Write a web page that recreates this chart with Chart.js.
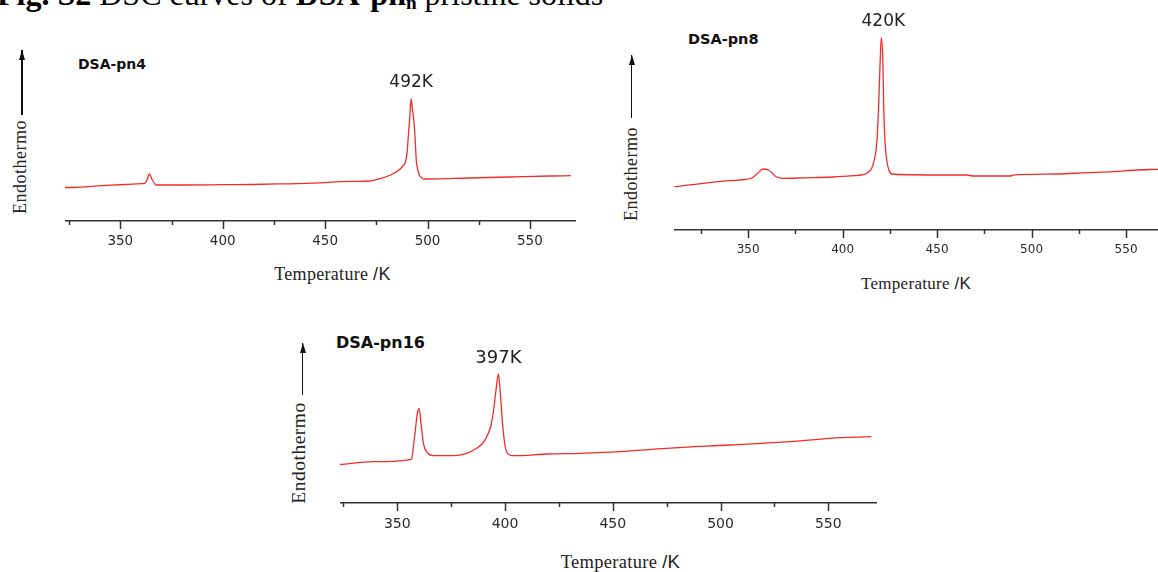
<!DOCTYPE html>
<html lang="en">
  <head>
    <meta charset="UTF-8" />
    <title>DSC curves of DSA-pn pristine solids</title>
    <script src="https://cdn.jsdelivr.net/npm/chart.js"></script>
    <style>
      body {
        margin: 0;
        width: 1158px;
        height: 572px;
        overflow: hidden;
        position: relative;
        background: #fff;
        font-family: "DejaVu Sans", sans-serif;
      }
      canvas,
      .abs {
        position: absolute;
      }
      .fig-title {
        left: -3px;
        top: -22px;
        font-family: "Liberation Serif", "Times New Roman", serif;
        font-size: 32px;
        line-height: 32px;
        white-space: nowrap;
        color: #000;
      }
      .fig-title sub {
        font-size: 60%;
        vertical-align: -0.2em;
        line-height: 0;
      }
      .panel-name {
        font-weight: bold;
        color: #111;
        white-space: nowrap;
        line-height: 1;
      }
      .ylab {
        width: 120px;
        height: 22px;
        line-height: 22px;
        text-align: center;
        transform: rotate(-90deg);
        font-family: "Liberation Serif", serif;
        color: #222;
        letter-spacing: 0.5px;
        white-space: nowrap;
      }
      .xlab {
        width: 200px;
        height: 22px;
        line-height: 22px;
        text-align: center;
        font-family: "Liberation Serif", serif;
        color: #222;
        letter-spacing: 0.3px;
        white-space: nowrap;
      }
      .xlab span {
        font-family: "Liberation Sans", sans-serif;
      }
      .arrow {
        width: 1.4px;
        background: #111;
      }
      .arrow::before {
        content: "";
        position: absolute;
        left: -2.3px;
        top: 0;
        border-left: 3px solid transparent;
        border-right: 3px solid transparent;
        border-bottom: 10px solid #111;
      }
    </style>
  </head>
  <body>
    <div class="abs fig-title">
      <b>Fig. S2</b> DSC curves of <b>DSA-pn<sub>n</sub></b> pristine solids
    </div>

    <!-- DSA-pn4 -->
    <div class="abs arrow" style="left: 21.3px; top: 50px; height: 65px"></div>
    <div class="abs ylab" style="left: -40.5px; top: 155.5px; font-size: 18px">Endothermo</div>
    <div class="abs panel-name" style="left: 78px; top: 57px; font-size: 14px">DSA-pn4</div>
    <canvas id="chart4" width="511" height="221" style="left: 65px; top: 40px"></canvas>
    <div class="abs xlab" style="left: 232.5px; top: 263px; font-size: 18px">Temperature <span>/K</span></div>

    <!-- DSA-pn8 -->
    <div class="abs arrow" style="left: 631px; top: 55px; height: 63px"></div>
    <div class="abs ylab" style="left: 571px; top: 162.5px; font-size: 18px">Endothermo</div>
    <div class="abs panel-name" style="left: 688px; top: 32px; font-size: 14.5px">DSA-pn8</div>
    <canvas id="chart8" width="484" height="270" style="left: 674px; top: 0px"></canvas>
    <div class="abs xlab" style="left: 816px; top: 273px; font-size: 17px">Temperature <span>/K</span></div>

    <!-- DSA-pn16 -->
    <div class="abs arrow" style="left: 302px; top: 343px; height: 52px"></div>
    <div class="abs ylab" style="left: 239px; top: 441.5px; font-size: 19.5px">Endothermo</div>
    <div class="abs panel-name" style="left: 336px; top: 335px; font-size: 16px">DSA-pn16</div>
    <canvas id="chart16" width="537" height="203" style="left: 340px; top: 340px"></canvas>
    <div class="abs xlab" style="left: 520.5px; top: 550.5px; font-size: 18.5px">Temperature <span>/K</span></div>

    <script>
      // tick positions (K), labels only on multiples of 50
      const tickValues = [325, 350, 375, 400, 425, 450, 475, 500, 525, 550];

      // DSA-pn4: temperature (K) and heat flow (arbitrary units, endo up)
      const pn4Temp = [
        323, 327, 341, 354, 360, 362, 363.2, 364.2, 365.3, 366.4, 367.4, 380,
        400, 415, 430, 450, 457, 465, 471.6, 477, 482, 486, 488, 489.2, 490,
        490.6, 491.3, 492, 492.6, 493.3, 494, 494.5, 495.2, 496, 497, 498, 500,
        520, 540, 560, 570,
      ];
      const pn4Signal = [
        33.5, 33.5, 35.3, 36.7, 37.3, 37.7, 42, 47, 42.5, 38.5, 36, 36, 36.3,
        36.5, 37.2, 38.3, 39.3, 39.6, 40, 42.5, 46, 51, 55, 59, 68, 84, 103,
        122, 112, 101, 81, 61, 52, 46, 43.5, 42, 42, 43, 44, 45, 45.3,
      ];

      // DSA-pn8
      const pn8Temp = [
        311, 326, 340, 348, 352, 355, 358, 360.7, 362.5, 364.3, 366, 368, 380,
        395, 405.7, 410, 412.8, 415.5, 417, 418.1, 419, 419.9, 420.5, 421.3,
        421.8, 422.5, 423.5, 424.5, 426, 430, 450, 465.7, 469.2, 488.6, 490.3,
        513.3, 529.2, 543.2, 555.7, 567,
      ];
      const pn8Signal = [
        43.3, 46.7, 49.3, 50.5, 52, 56.7, 61, 60, 57.5, 54, 52.5, 51.7, 52.2,
        53, 54.3, 55, 56.7, 62, 72, 87, 120, 170, 192, 170, 120, 87, 68, 60,
        56, 55.5, 55, 55, 54, 54, 54.9, 56, 57.3, 58.3, 60, 60.7,
      ];

      // DSA-pn16
      const pn16Temp = [
        323.4, 339, 356.6, 357.4, 358.2, 359.3, 360.1, 361, 362.1, 363.9,
        366.7, 376, 382.2, 386.8, 389.5, 391.5, 393.5, 394.8, 395.8, 396.9,
        397.8, 398.8, 399.8, 400.8, 403.5, 420, 434.7, 453.3, 475, 504.4,
        532.2, 550.8, 570,
      ];
      const pn16Signal = [
        38.5, 41.3, 43.7, 55, 69.7, 89.7, 94.7, 79.7, 59.7, 50.3, 47.3, 47.3,
        49.7, 54.7, 59.5, 66.3, 78, 95, 113, 129, 110, 80, 60, 51, 47.3, 49,
        49.7, 51.3, 54.7, 58, 61.3, 64.7, 66.3,
      ];

      const lineRed = "#f42b2b";
      const axisColor = "#333";

      // short/long tick marks under the axis line
      const tickMarks = {
        id: "tickMarks",
        afterDraw(chart) {
          const s = chart.scales.x;
          const ctx = chart.ctx;
          ctx.save();
          ctx.strokeStyle = axisColor;
          ctx.lineWidth = 1.5;
          s.ticks.forEach((t) => {
            const px = Math.round(s.getPixelForValue(t.value)) + 0.5;
            const len = t.value % 50 === 0 ? 8 : 4;
            ctx.beginPath();
            ctx.moveTo(px, s.top);
            ctx.lineTo(px, s.top + len);
            ctx.stroke();
          });
          ctx.restore();
        },
      };

      // "492K" style label above the highest point
      const peakLabel = {
        id: "peakLabel",
        afterDatasetsDraw(chart, args, opts) {
          const pts = chart.data.datasets[0].data;
          let top = pts[0];
          pts.forEach((p) => {
            if (p.y > top.y) top = p;
          });
          const ctx = chart.ctx;
          ctx.save();
          ctx.font = opts.size + "px 'DejaVu Sans'";
          ctx.fillStyle = "#222";
          ctx.textAlign = "center";
          ctx.textBaseline = "middle";
          ctx.fillText(
            opts.text,
            chart.scales.x.getPixelForValue(top.x) + (opts.dx || 0),
            chart.scales.y.getPixelForValue(top.y) - 16
          );
          ctx.restore();
        },
      };

      function makeChart(id, temps, signal, o) {
        return new Chart(document.getElementById(id), {
          type: "line",
          data: {
            datasets: [
              {
                data: temps.map((t, i) => ({ x: t, y: signal[i] })),
                borderColor: lineRed,
                borderWidth: 1.3,
                pointRadius: 0,
                cubicInterpolationMode: "monotone",
                fill: false,
              },
            ],
          },
          options: {
            responsive: false,
            animation: false,
            events: [],
            layout: { padding: 0 },
            plugins: {
              legend: { display: false },
              tooltip: { enabled: false },
              peakLabel: { text: o.peak, size: o.peakSize, dx: o.dx },
            },
            scales: {
              x: {
                type: "linear",
                bounds: "data",
                min: o.min,
                max: o.max,
                afterBuildTicks: (scale) => {
                  scale.ticks = tickValues.map((v) => ({ value: v }));
                },
                afterFit: (scale) => {
                  scale.height = 40;
                },
                // invisible tick marks just push the labels down
                grid: {
                  drawOnChartArea: false,
                  drawTicks: true,
                  tickLength: o.pad,
                  tickColor: "rgba(0,0,0,0)",
                },
                border: { color: axisColor, width: 1.5 },
                ticks: {
                  autoSkip: false,
                  maxRotation: 0,
                  padding: 0,
                  color: "#2a2a2a",
                  font: { family: "DejaVu Sans", size: o.tickSize },
                  callback: (v) => (v % 50 === 0 ? v : ""),
                },
              },
              y: { display: false, min: 0, max: o.top },
            },
          },
          plugins: [tickMarks, peakLabel],
        });
      }

      makeChart("chart4", pn4Temp, pn4Signal, {
        min: 323, max: 572.5, top: 181, pad: 12, tickSize: 13.5,
        peak: "492K", peakSize: 17,
      });
      makeChart("chart8", pn8Temp, pn8Signal, {
        min: 310.8, max: 566.9, top: 230, pad: 13, tickSize: 12,
        peak: "420K", peakSize: 17, dx: 2,
      });
      makeChart("chart16", pn16Temp, pn16Signal, {
        min: 323.4, max: 572.6, top: 163, pad: 13, tickSize: 14,
        peak: "397K", peakSize: 18,
      });
    </script>
  </body>
</html>
